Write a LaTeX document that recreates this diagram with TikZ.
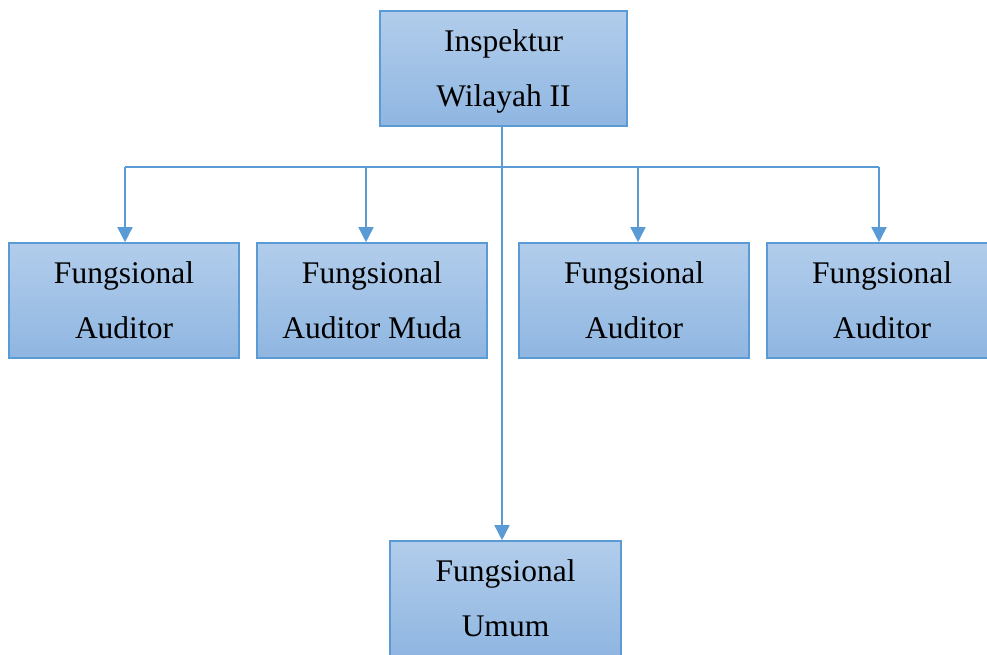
\documentclass[tikz,border=0pt]{standalone}
\usepackage{fontspec}
\setmainfont{LiberationSerif}[Extension=.ttf, UprightFont=*-Regular, BoldFont=*-Bold]
\usetikzlibrary{arrows.meta}
\definecolor{edgeblue}{RGB}{91,155,213}
\definecolor{filltop}{RGB}{178,205,235}
\definecolor{fillbot}{RGB}{143,182,225}
\tikzset{
  orgbox/.style={draw=edgeblue, line width=1.6pt, top color=filltop, bottom color=fillbot,
    minimum width=230pt, minimum height=115pt, inner sep=0pt, align=center,
    text depth=0pt, font=\rmfamily\fontsize{31.5}{55}\selectfont},
  conn/.style={draw=edgeblue, line width=1.6pt},
  arr/.style={conn, -{Triangle[width=15pt,length=15pt]}}
}
\begin{document}
\begin{tikzpicture}[x=1pt,y=-1pt]
\useasboundingbox (0,0) rectangle (987,655);
\node[orgbox, minimum width=247pt] (top) at (503.5,68.5) {Inspektur\\Wilayah II};
\node[orgbox] (b1) at (124,300.5) {Fungsional\\Auditor};
\node[orgbox] (b2) at (372,300.5) {Fungsional\\Auditor Muda};
\node[orgbox] (b3) at (634,300.5) {Fungsional\\Auditor};
\node[orgbox] (b4) at (882,300.5) {Fungsional\\Auditor};
\node[orgbox, minimum width=231pt] (bot) at (505.5,598.5) {Fungsional\\Umum};
\coordinate (j) at (502,167);
\coordinate (a1) at (125,167);
\coordinate (a2) at (366,167);
\coordinate (a3) at (638,167);
\coordinate (a4) at (879,167);
\draw[conn] (a1) -- (a4);
\draw[arr] (top.south -| j) -- (bot.north -| j);
\draw[arr] (a1) -- (b1.north -| a1);
\draw[arr] (a2) -- (b2.north -| a2);
\draw[arr] (a3) -- (b3.north -| a3);
\draw[arr] (a4) -- (b4.north -| a4);
\end{tikzpicture}
\end{document}
